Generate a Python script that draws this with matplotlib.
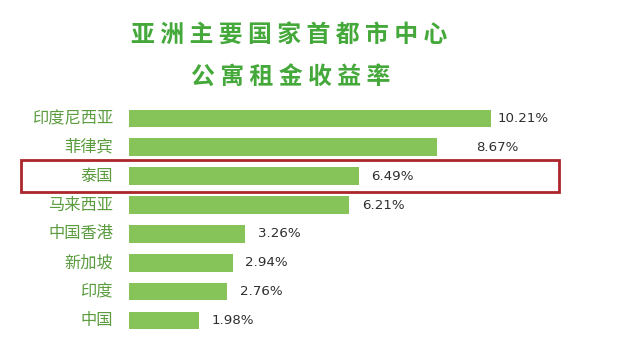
import matplotlib
matplotlib.use("Agg")
import matplotlib.pyplot as plt
from matplotlib.patches import Rectangle
import matplotlib.transforms as mtransforms

plt.rcParams['font.family'] = ['Noto Sans CJK SC', 'DejaVu Sans']

# ---- data ----
title_line1 = "亚洲主要国家首都市中心"
title_line2 = "公寓租金收益率"
countries = ["印度尼西亚", "菲律宾", "泰国", "马来西亚", "中国香港", "新加坡", "印度", "中国"]
yields = [10.21, 8.67, 6.49, 6.21, 3.26, 2.94, 2.76, 1.98]
value_labels = ["10.21%", "8.67%", "6.49%", "6.21%", "3.26%", "2.94%", "2.76%", "1.98%"]
highlight = "泰国"

# ---- style ----
label_pad_px = [6, 39, 12, 13, 13, 12, 13, 12]
bar_color = "#86c45a"
label_green = "#5a9c3e"
title_green = "#45a83a"
box_red = "#ac262b"

W, H = 625, 338
fig = plt.figure(figsize=(W / 100, H / 100), dpi=100)
fig.patch.set_facecolor("white")

ax = fig.add_axes([129 / W, 3.1 / H, 461.5 / W, 230.9 / H])
n = len(countries)
ypos = list(range(n))
ax.barh(ypos, yields, height=0.61, color=bar_color, edgecolor="none")
ax.set_xlim(0, 13)
ax.set_ylim(n - 0.5, -0.5)
ax.axis("off")

for i, (v, lab, pad) in enumerate(zip(yields, value_labels, label_pad_px)):
    ax.annotate(lab, xy=(v, i), xytext=(pad, 0), textcoords="offset pixels",
                ha="left", va="center", fontsize=9.6, color="#2e2e2e",
                family=["DejaVu Sans"])

for i, c in enumerate(countries):
    ax.annotate(c, xy=(0, i), xytext=(-16, 0), textcoords="offset pixels",
                ha="right", va="center", fontsize=11.7, color=label_green)

# highlight box
hi = countries.index(highlight)
trans = mtransforms.blended_transform_factory(fig.transFigure, ax.transData)
rect = Rectangle((21 / W, hi + 0.545), (559 - 21) / W, -1.09, transform=trans,
                 fill=False, edgecolor=box_red, linewidth=2.0, clip_on=False)
fig.add_artist(rect)

# title (spaced characters)
fig.text(289 / W, 1 - 35 / H, " ".join(title_line1), ha="center", va="center",
         fontsize=17.2, fontweight="bold", color=title_green)
fig.text(291 / W, 1 - 77 / H, " ".join(title_line2), ha="center", va="center",
         fontsize=17.2, fontweight="bold", color=title_green)

fig.savefig("out.png", dpi=100, facecolor="white")
